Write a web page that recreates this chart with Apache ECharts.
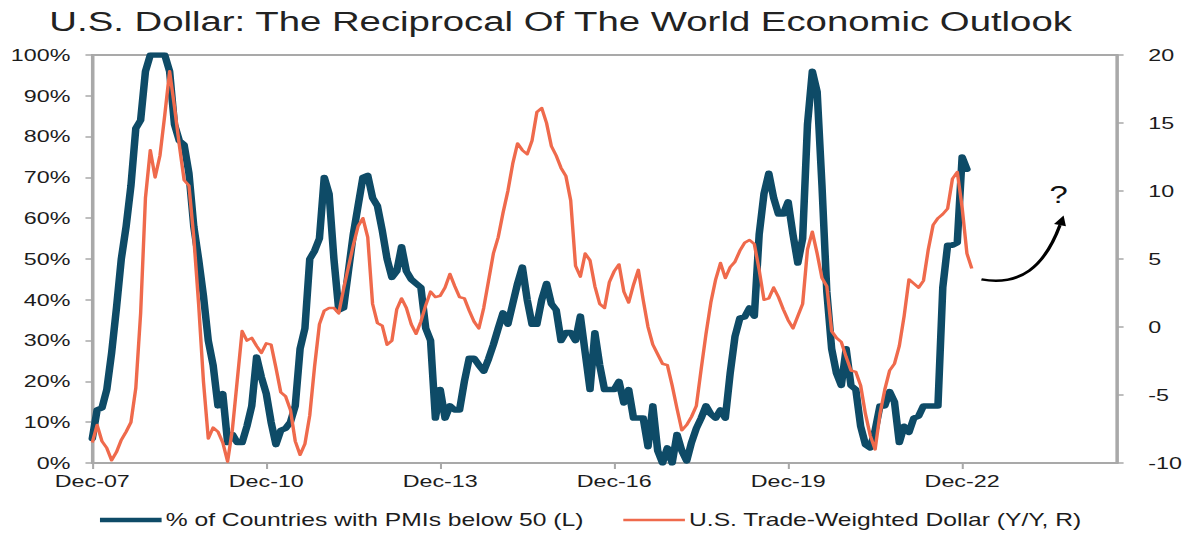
<!DOCTYPE html>
<html>
<head>
<meta charset="utf-8">
<script src="https://cdn.jsdelivr.net/npm/echarts@6/dist/echarts.min.js"></script>
<style>
  html, body { margin: 0; padding: 0; background: #fff; overflow: hidden; }
  #wrap { width: 1186px; height: 538px; overflow: hidden; }
  /* the chart is laid out narrower and widened horizontally */
  #chart { width: 866px; height: 538px; transform: scaleX(1.36952); transform-origin: 0 0; }
</style>
</head>
<body>
<div id="wrap"><div id="chart"></div></div>
<script>
// Monthly axis: Dec-07 onward
const MONTH_NAMES = ['Jan','Feb','Mar','Apr','May','Jun','Jul','Aug','Sep','Oct','Nov','Dec'];
const START_YEAR = 2007;
const START_MONTH = 11;          // December
const AXIS_MONTHS = 213;         // Dec-07 .. Aug-25
const LABEL_STEP = 36;           // one label every three years

const categories = [];
for (let i = 0; i < AXIS_MONTHS; i++) {
  const k = START_MONTH + i;
  const yy = (START_YEAR + Math.floor(k / 12)) % 100;
  categories.push(MONTH_NAMES[k % 12] + '-' + String(yy).padStart(2, '0'));
}

// % of countries with manufacturing PMIs below 50 (left axis)
const pmiBelow50 = [
  6, 13, 13.5, 18, 27, 38, 50, 58, 68, 82,
  84, 96, 100, 100, 100, 100, 96, 83, 79, 78,
  71, 58, 50, 41, 30, 24, 14, 17, 5, 7,
  5, 5, 9, 14, 26, 21, 17, 10, 4.5, 8,
  8.5, 10, 14, 28, 33, 50, 52, 55, 70, 66,
  50, 37.5, 38, 47, 56, 63, 70, 70.5, 65, 63,
  57, 50, 45.5, 47, 53, 47, 45, 44, 43, 33,
  30, 11, 18, 11, 14, 13, 13, 20, 25.7, 25.7,
  24, 22.5, 25.5, 29, 33, 36.8, 34, 39, 44, 48,
  40, 34, 34, 40, 44, 39, 37.5, 30, 32, 32,
  30, 36, 27, 18, 31.9, 24, 18, 18, 18, 20,
  14.7, 18, 11, 11, 11, 4, 14, 3, 0, 3.7,
  0, 7, 3, 0.5, 5, 8.5, 11, 14, 12, 11,
  13, 11, 22, 31, 35.5, 35.8, 38, 36, 56, 66,
  71, 65, 61, 61, 64, 56, 49, 55, 83, 96,
  91, 68, 42, 28, 22, 19, 28, 19, 18, 9,
  4.5, 3.7, 8, 14, 14, 17.5, 15, 5, 9, 7.5,
  11, 11.5, 14, 14, 14, 14, 43, 53.4, 53.4, 54,
  75, 72
];

// U.S. trade-weighted dollar, year-over-year % (right axis)
const usdYoY = [
  -8.5, -7.2, -8.4, -8.9, -9.8, -9.2, -8.3, -7.7, -7.0, -4.5,
  1.0, 9.5, 13.0, 11.0, 12.6, 15.6, 18.8, 16.2, 13.4, 10.8,
  10.4, 6.6, 1.7, -4.0, -8.2, -7.4, -7.7, -8.5, -9.9, -7.5,
  -3.9, -0.3, -1.0, -0.8, -1.4, -1.9, -1.2, -1.3, -3.0, -4.8,
  -5.1, -6.1, -8.4, -9.4, -8.6, -6.5, -2.9, 0.2, 1.2, 1.4,
  1.4, 1.0, 2.8, 4.4, 6.0, 7.4, 8.0, 6.6, 1.7, 0.3,
  0.1, -1.3, -1.0, 1.3, 2.1, 1.4, 0.2, -0.5, 0.4, 1.6,
  2.6, 2.2, 2.3, 2.9, 3.9, 3.0, 2.2, 2.1, 1.2, 0.4,
  -0.1, 1.4, 3.4, 5.4, 6.6, 8.4, 10.0, 12.0, 13.5, 13.0,
  12.7, 13.7, 15.8, 16.1, 15.0, 13.3, 12.6, 11.7, 11.1, 9.3,
  4.5, 3.7, 5.4, 4.9, 3.0, 1.7, 1.4, 3.3, 4.1, 4.6,
  2.6, 1.8, 3.1, 4.2, 2.0, 0.0, -1.3, -2.0, -2.7, -2.8,
  -4.3, -6.0, -7.6, -7.2, -6.6, -5.8, -3.1, -0.5, 1.8, 3.5,
  4.7, 3.6, 4.4, 4.8, 5.6, 6.2, 6.4, 6.1, 4.2, 2.0,
  2.1, 2.9, 2.2, 1.3, 0.5, -0.1, 0.8, 1.7, 5.7, 7.0,
  5.4, 3.6, 3.0, -0.3, -0.8, -1.1, -2.2, -3.2, -3.3, -4.3,
  -6.4, -8.0, -9.0, -6.4, -4.6, -3.2, -2.7, -1.4, 0.8, 3.5,
  3.2, 2.9, 3.4, 5.7, 7.5, 8.0, 8.3, 8.7, 10.9, 11.4,
  8.8, 5.4, 4.3
];

const leftTicks = { min: 0, max: 100, step: 10 };
const rightTicks = { min: -10, max: 20, step: 5 };

const FONT = '"Liberation Sans", Arial, sans-serif';
const AXIS_GREY = '#a9a9a9';
const TEXT = '#1c1c1c';
const BLUE = '#0e4b67';
const ORANGE = '#ef6a4c';
const NAME_PMI = '% of Countries with PMIs below 50 (L)';
const NAME_USD = 'U.S. Trade-Weighted Dollar (Y/Y, R)';

const chart = echarts.init(document.getElementById('chart'), null, { renderer: 'svg' });

const option = {
  animation: false,
  backgroundColor: '#ffffff',
  textStyle: { fontFamily: FONT },
  title: {
    text: 'U.S. Dollar: The Reciprocal Of The World Economic Outlook',
    left: 31,
    top: 2,
    textStyle: { fontFamily: FONT, fontSize: 28, fontWeight: 'normal', color: '#222' }
  },
  legend: {
    left: 73,
    top: 511,
    padding: 0,
    itemWidth: 45,
    itemHeight: 14,
    itemGap: 29,
    textStyle: { fontFamily: FONT, fontSize: 18, color: TEXT, padding: [0, 0, 0, -2] },
    data: [
      { name: NAME_PMI, icon: 'path://M0,0H60V6H0Z', itemStyle: { color: BLUE } },
      { name: NAME_USD, icon: 'path://M0,0H60V3.2H0Z', itemStyle: { color: ORANGE } }
    ]
  },
  grid: {
    left: 67.4, right: 49.6, top: 55, bottom: 75,
    show: true, borderColor: AXIS_GREY, borderWidth: 2, backgroundColor: 'transparent'
  },
  xAxis: {
    type: 'category',
    data: categories,
    boundaryGap: false,
    axisLine: { lineStyle: { color: AXIS_GREY, width: 2 } },
    axisTick: {
      length: 6,
      interval: (i) => i % LABEL_STEP === 0,
      lineStyle: { color: AXIS_GREY, width: 1.5 }
    },
    axisLabel: {
      interval: (i) => i % LABEL_STEP === 0,
      margin: 10,
      fontFamily: FONT, fontSize: 17, color: TEXT
    },
    splitLine: { show: false }
  },
  yAxis: [
    {
      type: 'value',
      min: leftTicks.min, max: leftTicks.max, interval: leftTicks.step,
      axisLine: { show: true, lineStyle: { color: AXIS_GREY, width: 2 } },
      axisTick: { show: true, length: 5, lineStyle: { color: AXIS_GREY, width: 1.5 } },
      axisLabel: { formatter: '{value}%', margin: 16, fontFamily: FONT, fontSize: 17, color: TEXT },
      splitLine: { show: false }
    },
    {
      type: 'value',
      position: 'right',
      min: rightTicks.min, max: rightTicks.max, interval: rightTicks.step,
      axisLine: { show: true, lineStyle: { color: AXIS_GREY, width: 2 } },
      axisTick: { show: true, length: 5, lineStyle: { color: AXIS_GREY, width: 1.5 } },
      axisLabel: { margin: 23, fontFamily: FONT, fontSize: 17, color: TEXT },
      splitLine: { show: false }
    }
  ],
  series: [
    {
      name: NAME_PMI,
      type: 'line',
      yAxisIndex: 0,
      data: pmiBelow50,
      symbol: 'none',
      color: BLUE,
      lineStyle: { color: BLUE, width: 5.5, cap: 'round', join: 'round' },
      z: 2
    },
    {
      name: NAME_USD,
      type: 'line',
      yAxisIndex: 1,
      data: usdYoY,
      symbol: 'none',
      color: ORANGE,
      lineStyle: { color: ORANGE, width: 2.5, join: 'round' },
      z: 3
    }
  ]
};

chart.setOption(option);

// Curved "what next?" arrow after the last dollar reading, placed in right-axis units
function toPx(month, value) {
  return chart.convertToPixel({ seriesIndex: 1 }, [month, value]);
}
const p0 = toPx(184.0, 3.5);
const c1 = toPx(191.5, 3.0);
const c2 = toPx(197.0, 4.4);
const tip = toPx(200.9, 8.2);
const dx = tip[0] - c2[0], dy = tip[1] - c2[1];
const len = Math.hypot(dx, dy) || 1;
const ux = dx / len, uy = dy / len;
const headLen = 10, headHalf = 4.5;
const base = [tip[0] - ux * headLen, tip[1] - uy * headLen];
const q = toPx(200.1, 9.7);

chart.setOption({
  graphic: [
    {
      type: 'bezierCurve',
      shape: {
        x1: p0[0], y1: p0[1],
        cpx1: c1[0], cpy1: c1[1],
        cpx2: c2[0], cpy2: c2[1],
        x2: base[0], y2: base[1]
      },
      style: { stroke: '#000', lineWidth: 2.5, fill: null },
      z: 10
    },
    {
      type: 'polygon',
      shape: {
        points: [
          tip,
          [base[0] - uy * headHalf, base[1] + ux * headHalf],
          [base[0] + uy * headHalf, base[1] - ux * headHalf]
        ]
      },
      style: { fill: '#000' },
      z: 10
    },
    {
      type: 'text',
      x: q[0], y: q[1],
      style: {
        text: '?', fontFamily: FONT, fontSize: 24, fill: '#111',
        align: 'center', verticalAlign: 'middle'
      },
      z: 10
    }
  ]
});
</script>
</body>
</html>
